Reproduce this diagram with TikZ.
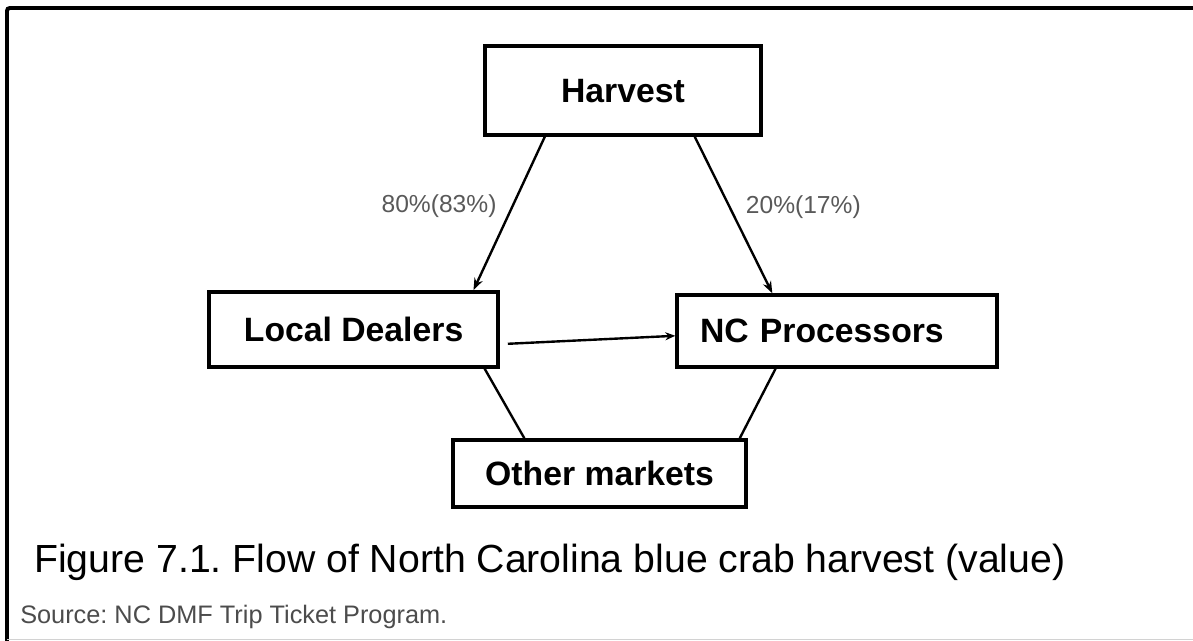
\documentclass[tikz,border=0pt]{standalone}
\usepackage{fontspec}
\setmainfont{Liberation Sans}
\usepackage{tikz}
\usetikzlibrary{positioning,arrows.meta,calc}
\frenchspacing

\begin{document}
\begin{tikzpicture}[
  box/.style={draw, line width=2.4pt, inner sep=0pt, font=\fontsize{24}{28}\selectfont\bfseries},
  flow/.style={line width=1.7pt},
  pct/.style={inner sep=0pt, text=black!65, font=\fontsize{17.5}{20}\selectfont}
]
\useasboundingbox (0,0) rectangle (29.825,16.025);

% Frame
\draw[line width=2.8pt, rounded corners=2pt] (0.175,0) -- (0.175,15.825) -- (29.9,15.825);
\draw[gray!35, line width=0.8pt] (0.175,0.03) -- (29.825,0.03);

% Boxes
\node[box, minimum width=6.9cm, minimum height=2.225cm] (harvest) at (15.575,13.76) {Harvest};
\node[box, minimum width=7.225cm, minimum height=1.875cm] (local) at (8.84,7.79) {Local Dealers};
\node[box, minimum width=8cm, minimum height=1.8cm, text width=6.85cm, inner xsep=0.575cm, align=left] (proc) at (20.925,7.75) {NC Processors};
\node[box, minimum width=7.325cm, minimum height=1.675cm] (other) at (14.99,4.19) {Other markets};

% Flows out of the harvest
\draw[flow, -{Stealth[length=3mm, width=2.2mm]}]
  ($(harvest.south west)!0.22!(harvest.south east)$) --
  node[pct, pos=0.45, left=0.375cm] {80\%(83\%)}
  ($(local.north west)!0.91!(local.north east)$);
\draw[flow, -{Stealth[length=3mm, width=2.2mm]}]
  ($(harvest.south west)!0.757!(harvest.south east)$) --
  node[pct, pos=0.45, right=0.375cm] {20\%(17\%)}
  ($(proc.north west)!0.30!(proc.north east)$);

% Dealers to processors
\draw[flow, -{Stealth[length=2.5mm, width=2mm]}]
  ([xshift=0.2cm, yshift=-0.36cm]local.east) -- ([yshift=-0.12cm]proc.west);

% To other markets
\draw[flow] ($(local.south west)!0.948!(local.south east)$) -- ($(other.north west)!0.246!(other.north east)$);
\draw[flow] ($(proc.south west)!0.31!(proc.south east)$) -- ($(other.north west)!0.973!(other.north east)$);

% Caption
\node[anchor=base west, inner sep=0pt, font=\fontsize{27.9}{33}\selectfont] (caption) at (0.85,1.7)
  {Figure 7.1. Flow of North Carolina blue crab harvest (value)};
\node[anchor=base west, inner sep=0pt, text=black!70, font=\fontsize{18}{21}\selectfont] (source) at (0.5,0.425)
  {Source: NC DMF Trip Ticket Program.};

\end{tikzpicture}
\end{document}
